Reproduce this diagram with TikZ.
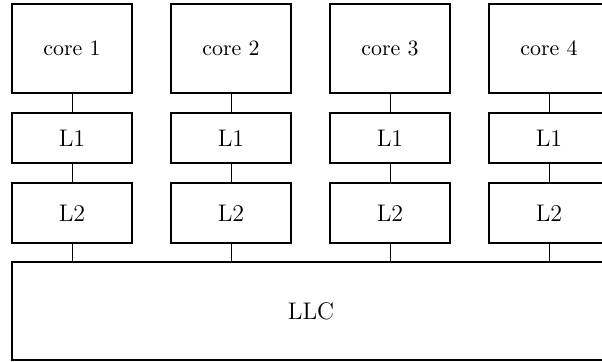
\documentclass[tikz,border=0pt]{standalone}
\begin{document}
\begin{tikzpicture}[x=0.5pt,y=-0.5pt,
  box/.style={draw, line width=0.75pt, inner sep=0pt, outer sep=0pt, minimum width=60pt},
  corebox/.style={box, minimum height=44.5pt, font=\fontsize{10.95}{13}\selectfont},
  lonebox/.style={box, minimum height=25pt, font=\fontsize{12}{14}\selectfont},
  ltwobox/.style={box, minimum height=30pt, font=\fontsize{12}{14}\selectfont},
  link/.style={line width=0.4pt}]
  \useasboundingbox (0,0) rectangle (602,362);
  \clip (0,0) rectangle (602,362);
  % last-level cache spanning all cores
  \node[box, minimum width=299pt, minimum height=49pt, font=\fontsize{12}{14}\selectfont] (llc) at (311,311) {LLC};
  \foreach \i/\cx in {1/72, 2/231, 3/390, 4/549} {
    \node[corebox] (c\i) at (\cx,48.5) {core \i};
    \node[lonebox] (a\i) at (\cx,138) {L1};
    \node[ltwobox] (b\i) at (\cx,213) {L2};
    \coordinate (m\i) at (\cx,262);
    \draw[link] (c\i) -- (a\i);
    \draw[link] (a\i) -- (b\i);
    \draw[link] (b\i) -- (m\i);
  }
\end{tikzpicture}
\end{document}
